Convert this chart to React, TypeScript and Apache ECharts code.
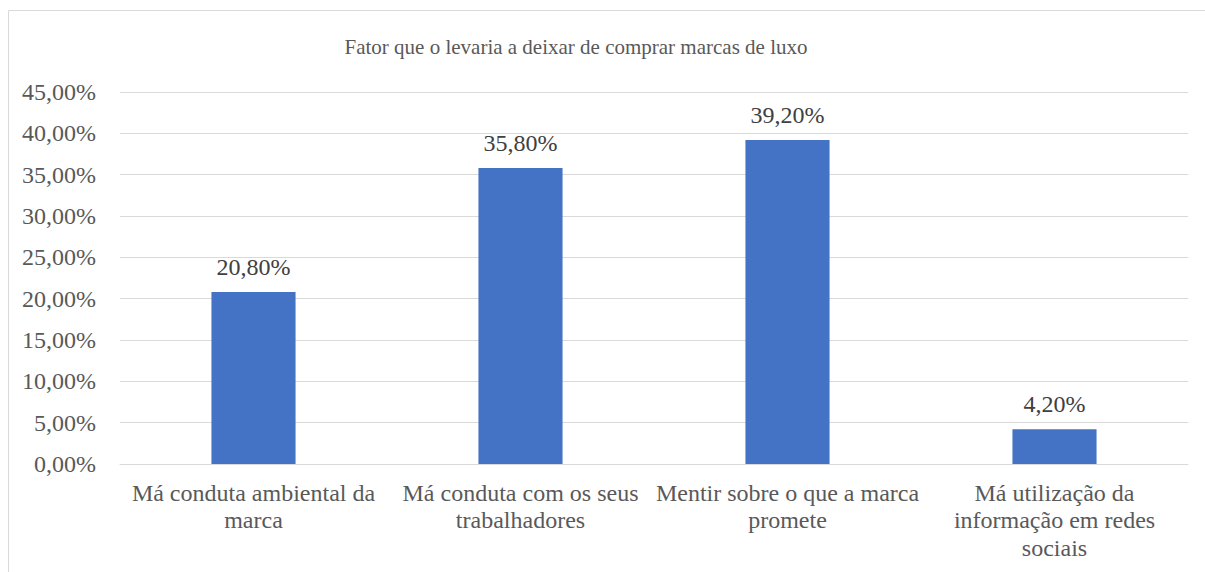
import React, { useEffect, useRef } from "react";
import * as echarts from "echarts";

const title = "Fator que o levaria a deixar de comprar marcas de luxo";
const categories = [
  "Má conduta ambiental da\nmarca",
  "Má conduta com os seus\ntrabalhadores",
  "Mentir sobre o que a marca\npromete",
  "Má utilização da\ninformação em redes\nsociais",
];
const values = [20.8, 35.8, 39.2, 4.2];
const yMin = 0;
const yMax = 45;
const yInterval = 5;

const FONT = "Liberation Serif";
const fmt = (v: number) => v.toFixed(2).replace(".", ",") + "%";

export default function App() {
  const ref = useRef<HTMLDivElement>(null);
  useEffect(() => {
    if (!ref.current) return;
    const chart = echarts.init(ref.current, null, { renderer: "svg" });
    chart.setOption({
      animation: false,
      backgroundColor: "#ffffff",
      textStyle: { fontFamily: FONT },
      graphic: [
        {
          type: "line",
          shape: { x1: 8.5, y1: 10.5, x2: 1205, y2: 10.5 },
          style: { stroke: "#d9d9d9", lineWidth: 1 },
          silent: true,
        },
        {
          type: "line",
          shape: { x1: 8.5, y1: 10.5, x2: 8.5, y2: 572 },
          style: { stroke: "#d9d9d9", lineWidth: 1 },
          silent: true,
        },
        {
          type: "text",
          x: 576,
          y: 47,
          style: {
            text: title,
            fontFamily: FONT,
            fontSize: 21,
            fill: "#595959",
            align: "center",
            verticalAlign: "middle",
          },
        },
      ],
      grid: { left: 120, right: 17, top: 92, bottom: 108, containLabel: false },
      xAxis: {
        type: "category",
        data: categories,
        axisLine: { show: true, lineStyle: { color: "#d9d9d9", width: 1 } },
        axisTick: { show: false },
        axisLabel: {
          color: "#595959",
          fontFamily: FONT,
          fontSize: 24,
          lineHeight: 27.5,
          margin: 15,
          interval: 0,
          align: "center",
        },
      },
      yAxis: {
        type: "value",
        min: yMin,
        max: yMax,
        interval: yInterval,
        axisLine: { show: false },
        axisTick: { show: false },
        splitLine: { lineStyle: { color: "#d9d9d9", width: 1 } },
        axisLabel: {
          color: "#595959",
          fontFamily: FONT,
          fontSize: 24,
          margin: 24,
          formatter: (v: number) => fmt(v),
        },
      },
      series: [
        {
          type: "bar",
          data: values,
          barWidth: "31.5%",
          itemStyle: { color: "#4472C4" },
          label: {
            show: true,
            position: "top",
            distance: 13,
            color: "#404040",
            fontFamily: FONT,
            fontSize: 24,
            formatter: (p: any) => fmt(p.value),
          },
        },
      ],
    });
    return () => chart.dispose();
  }, []);
  return (
    <div
      ref={ref}
      style={{ position: "fixed", left: 0, top: 0, width: 1205, height: 572 }}
    />
  );
}
